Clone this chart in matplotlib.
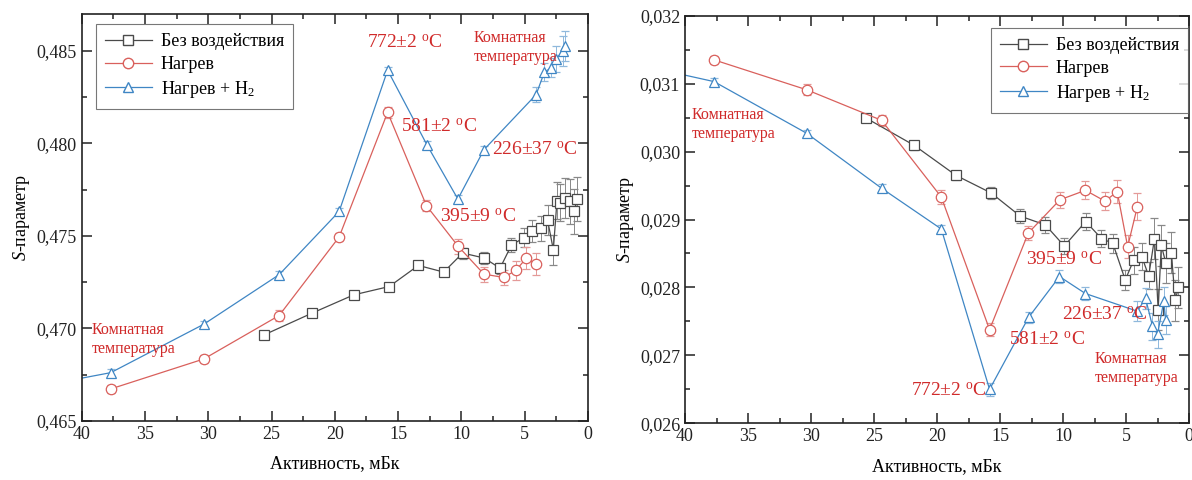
import matplotlib
matplotlib.use("Agg")
import matplotlib.pyplot as plt
from matplotlib.ticker import MultipleLocator, FuncFormatter
from matplotlib.lines import Line2D

plt.rcParams['font.family'] = ['Liberation Serif', 'DejaVu Serif']
plt.rcParams['mathtext.fontset'] = 'custom'
plt.rcParams['mathtext.rm'] = 'Liberation Serif'
plt.rcParams['mathtext.it'] = 'Liberation Serif:italic'

# ---------------- data ----------------
series_names = ["Без воздействия", "Нагрев", "Нагрев + H$_2$"]

# Без воздействия (black)
x_none = [25.6, 21.8, 18.5, 15.7, 13.4, 11.4, 9.9, 8.2, 6.95, 6.05, 5.06, 4.4, 3.74,
          3.2, 2.74, 2.45, 2.2, 1.84, 1.4, 1.1, 0.84]
s_none = [0.46964, 0.47082, 0.47181, 0.47226, 0.4734, 0.47304, 0.47407, 0.4738, 0.47325,
          0.4745, 0.4749, 0.47528, 0.4754, 0.47587, 0.47425, 0.4769, 0.4768, 0.47705,
          0.47686, 0.47632, 0.47699]
s_none_err = [0.00015, 0.00015, 0.00015, 0.00015, 0.00015, 0.00018, 0.0003, 0.0003, 0.0003,
              0.0004, 0.0005, 0.0006, 0.0007, 0.0008, 0.0008, 0.001, 0.001, 0.0011,
              0.0012, 0.0012, 0.0012]
w_none = [0.03049, 0.03009, 0.02965, 0.02939, 0.02905, 0.02892, 0.02861, 0.02897, 0.02872,
          0.02865, 0.02811, 0.0284, 0.02845, 0.02817, 0.02872, 0.02767, 0.02862, 0.02836,
          0.02851, 0.02781, 0.028]
w_none_err = [0.00005, 0.00006, 0.00007, 0.00009, 0.0001, 0.00012, 0.00012, 0.00012, 0.00012,
              0.00014, 0.00015, 0.0002, 0.0002, 0.0002, 0.0003, 0.0003, 0.0003, 0.0003,
              0.0003, 0.0003, 0.0003]

# Нагрев (red)
x_heat = [37.7, 30.35, 24.4, 19.66, 15.83, 12.76, 10.25, 8.22, 6.67, 5.7, 4.87, 4.1]
s_heat = [0.46672, 0.46834, 0.47069, 0.47494, 0.48168, 0.47663, 0.47443, 0.47293, 0.47275,
          0.47313, 0.4738, 0.47347]
s_heat_err = [0.0002, 0.0002, 0.0003, 0.0002, 0.0003, 0.0003, 0.0004, 0.0004, 0.0004,
              0.0005, 0.0006, 0.0006]
w_heat = [0.03135, 0.03091, 0.03046, 0.02933, 0.02738, 0.0288, 0.02929, 0.02943, 0.02927,
          0.02941, 0.0286, 0.02919]
w_heat_err = [0.00006, 0.00008, 0.00008, 0.0001, 0.0001, 0.0001, 0.00012, 0.00013, 0.00013,
              0.00017, 0.00017, 0.0002]

# Нагрев + H2 (blue)
x_h2 = [44.5, 37.7, 30.35, 24.4, 19.66, 15.83, 12.73, 10.28, 8.22, 4.1, 3.45, 2.9, 2.5,
        2.0, 1.85]
s_h2 = [0.46672, 0.4676, 0.47022, 0.4729, 0.47632, 0.48396, 0.47993, 0.47699, 0.47966,
        0.48264, 0.48385, 0.4841, 0.48459, 0.4850, 0.48526]
s_h2_err = [0.0002, 0.0002, 0.0002, 0.0002, 0.0002, 0.0002, 0.0002, 0.0002, 0.0002,
            0.0004, 0.0005, 0.0005, 0.0007, 0.0008, 0.0008]
w_h2 = [0.03131, 0.03103, 0.03027, 0.02946, 0.02886, 0.0265, 0.02756, 0.02816, 0.02791,
        0.02765, 0.02784, 0.02743, 0.02731, 0.0278, 0.02752]
w_h2_err = [0.00005, 0.00005, 0.00005, 0.00006, 0.00006, 0.0001, 0.00008, 0.0001, 0.0001,
            0.00015, 0.00015, 0.0002, 0.0002, 0.0002, 0.0002]

# annotations: (text, x, y)
left_notes = [("772±2 $^{\\rm o}$C", 17.46, 0.48546),
              ("581±2 $^{\\rm o}$C", 14.78, 0.48091),
              ("226±37 $^{\\rm o}$C", 7.61, 0.47967),
              ("395±9 $^{\\rm o}$C", 11.7, 0.4760)]
left_room = [(9.03, 0.48519), (39.19, 0.46937)]
right_notes = [("395±9 $^{\\rm o}$C", 12.97, 0.0284),
               ("226±37 $^{\\rm o}$C", 10.07, 0.02759),
               ("581±2 $^{\\rm o}$C", 14.3, 0.02723),
               ("772±2 $^{\\rm o}$C", 22.07, 0.02647)]
right_room = [(39.47, 0.0304), (7.48, 0.0268)]
room_text = "Комнатная\nтемпература"

c_black = '#4a4a4a'
c_red = '#d9605c'
c_blue = '#3f86c4'
c_text = '#d02a2a'
colors = [c_black, c_red, c_blue]
markers = ['s', 'o', '^']

fig = plt.figure(figsize=(11.92, 4.8), dpi=100)
axL = fig.add_axes([0.0685, 0.1235, 0.4248, 0.8473])
axR = fig.add_axes([0.5747, 0.1181, 0.4228, 0.8492])


def draw(ax, x0, y0, e0, x1, y1, e1, x2, y2, e2):
    common = dict(lw=0.9, ms=7.5, mfc='white', mew=0.9, capsize=3.2, elinewidth=0.7,
                  capthick=0.7)
    ax.errorbar(x0, y0, yerr=e0, marker='s', color=c_black, mec=c_black, ecolor='#888888',
                **common)
    ax.errorbar(x1, y1, yerr=e1, marker='o', color=c_red, mec=c_red, ecolor='#e49a98',
                **common)
    ax.errorbar(x2, y2, yerr=e2, marker='^', color=c_blue, mec=c_blue, ecolor='#8fb8dc',
                **common)


draw(axL, x_none, s_none, s_none_err, x_heat, s_heat, s_heat_err, x_h2, s_h2, s_h2_err)
draw(axR, x_none, w_none, w_none_err, x_heat, w_heat, w_heat_err, x_h2, w_h2, w_h2_err)

axL.set_xlim(40, 0)
axL.set_ylim(0.465, 0.487)
axR.set_xlim(40, 0)
axR.set_ylim(0.026, 0.032)

axL.yaxis.set_major_locator(MultipleLocator(0.005))
axL.yaxis.set_minor_locator(MultipleLocator(0.0025))
axR.yaxis.set_major_locator(MultipleLocator(0.001))
axR.yaxis.set_minor_locator(MultipleLocator(0.0005))

handles = [Line2D([], [], color=c, marker=m, mfc='white', mec=c, ms=7.5, lw=0.9)
           for c, m in zip(colors, markers)]

for ax in (axL, axR):
    ax.xaxis.set_major_locator(MultipleLocator(5))
    ax.xaxis.set_minor_locator(MultipleLocator(2.5))
    ax.yaxis.set_major_formatter(FuncFormatter(lambda v, p: f"{v:.3f}".replace('.', ',')))
    ax.xaxis.set_major_formatter(FuncFormatter(lambda v, p: f"{v:.0f}"))
    ax.tick_params(which='both', direction='in', top=True, right=True, labelsize=13,
                   width=1.1, colors='#222222')
    ax.tick_params(which='major', length=7)
    ax.tick_params(which='minor', length=3.5)
    for s in ax.spines.values():
        s.set_linewidth(1.2)
        s.set_color('#222222')
    ax.set_xlabel("Активность, мБк", fontsize=13, labelpad=9)
    ax.set_ylabel("$\\it{S}$-параметр", fontsize=13, labelpad=3)

axL.legend(handles, series_names, loc='upper left', bbox_to_anchor=(0.028, 0.975),
           fontsize=13, frameon=True, fancybox=False, edgecolor='#555555',
           handlelength=2.6, borderpad=0.5, labelspacing=0.32, handletextpad=0.5,
           borderaxespad=0).get_frame().set_linewidth(0.8)
axR.legend(handles, series_names, loc='upper right', bbox_to_anchor=(0.998, 0.97),
           fontsize=13, frameon=True, fancybox=False, edgecolor='#555555',
           handlelength=2.6, borderpad=0.5, labelspacing=0.32, handletextpad=0.5,
           borderaxespad=0).get_frame().set_linewidth(0.8)

for t, x, y in left_notes:
    axL.text(x, y, t, color=c_text, fontsize=14, ha='left', va='center')
for x, y in left_room:
    axL.text(x, y, room_text, color=c_text, fontsize=11.5, ha='left', va='center',
             linespacing=1.25)
for t, x, y in right_notes:
    axR.text(x, y, t, color=c_text, fontsize=14, ha='left', va='center')
for x, y in right_room:
    axR.text(x, y, room_text, color=c_text, fontsize=11.5, ha='left', va='center',
             linespacing=1.25)

fig.savefig("out.png", dpi=100)
